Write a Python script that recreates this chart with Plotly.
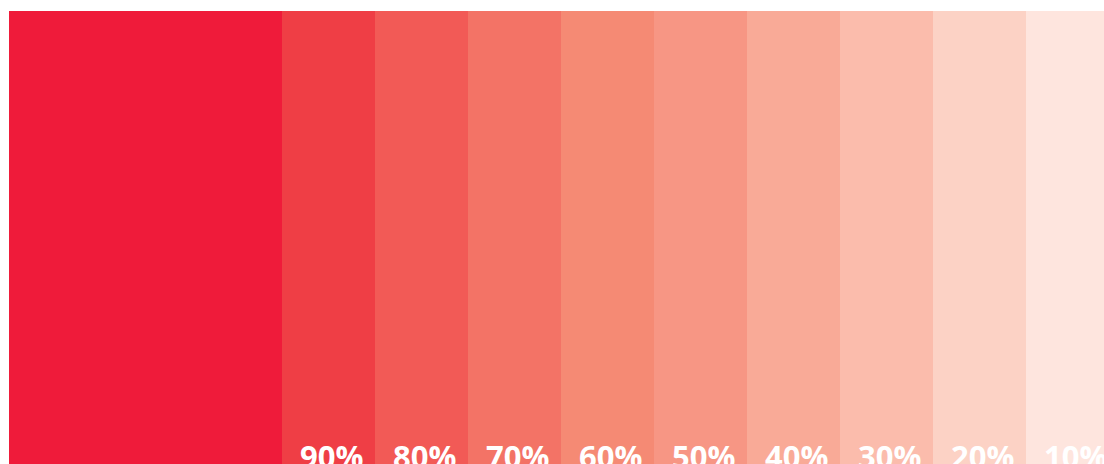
import plotly.graph_objects as go

# Data
tints = [100, 90, 80, 70, 60, 50, 40, 30, 20, 10]
labels = ["", "90%", "80%", "70%", "60%", "50%", "40%", "30%", "20%", "10%"]
colors = ["#EF1B3A", "#EF3E45", "#F25A56", "#F37366", "#F58A74",
          "#F79684", "#F9AA97", "#FBBCAC", "#FCD2C5", "#FEE5DE"]

# Style: relative swatch widths
widths = [273 / 93] + [1] * 9
lefts = []
acc = 0.0
for w in widths:
    lefts.append(acc)
    acc += w
centers = [l + w / 2 for l, w in zip(lefts, widths)]

fig = go.Figure()
fig.add_bar(
    x=centers,
    y=[1] * len(tints),
    width=widths,
    marker=dict(color=colors, line=dict(width=0)),
    hoverinfo="skip",
    showlegend=False,
)

for c, lab in zip(centers, labels):
    if lab:
        fig.add_annotation(
            x=c, y=0, xref="x", yref="paper",
            text=lab, showarrow=False,
            xanchor="center", yanchor="bottom", yshift=-15, xshift=3,
            font=dict(family="Open Sans", size=31, color="white", weight=700),
        )

fig.update_layout(
    width=1104, height=464,
    margin=dict(l=9, r=0, t=11, b=0),
    paper_bgcolor="white", plot_bgcolor="white",
    bargap=0,
    xaxis=dict(range=[0, 1095 / 93], visible=False, fixedrange=True),
    yaxis=dict(range=[0, 1], visible=False, fixedrange=True),
)

fig.write_html(
    "out.html",
    config={"displayModeBar": False},
    post_script="document.body.style.margin='0';document.body.style.overflow='hidden';",
)
